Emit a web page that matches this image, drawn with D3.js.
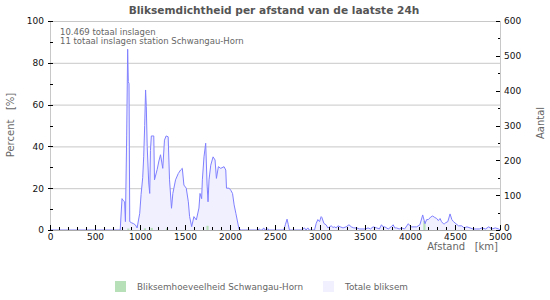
<!DOCTYPE html>
<html><head><meta charset="utf-8">
<script src="https://cdn.jsdelivr.net/npm/d3@7"></script>
<style>
body{margin:0;background:#fff;}
svg text{font-family:"DejaVu Sans",Verdana,sans-serif;}
</style></head>
<body><svg id="c" width="550" height="300"></svg>
<script>
const title = "Bliksemdichtheid per afstand van de laatste 24h";
const notes = ["10.469 totaal inslagen", "11 totaal inslagen station Schwangau-Horn"];
const seriesNames = ["Bliksemhoeveelheid Schwangau-Horn", "Totale bliksem"];
// Totale bliksem: distance (km) and percent
const totalKm = [0,780,800,815,829,838,852,863,870,878,886,904,930,949,968,997,1012,1030,1041,1052,1062,1070,1080,1097,1108,1116,1126,1135,1153,1161,1191,1210,1228,1253,1272,1290,1313,1328,1350,1365,1395,1425,1451,1470,1488,1514,1537,1551,1574,1599,1626,1655,1667,1685,1693,1711,1730,1745,1756,1767,1786,1812,1834,1849,1871,1897,1934,1953,1961,1990,2009,2028,2046,2065,2091,2102,2128,2310,2325,2340,2360,2374,2390,2420,2440,2597,2615,2634,2648,2660,2800,2827,2845,2865,2880,2939,2958,2976,2995,3013,3021,3043,3069,3088,3105,3125,3145,3162,3180,3199,3225,3256,3290,3322,3348,3375,3404,3440,3479,3505,3534,3560,3590,3630,3660,3683,3700,3720,3758,3790,3813,3830,3850,3880,3906,3940,3981,4000,4018,4045,4074,4110,4141,4167,4185,4204,4230,4252,4275,4297,4315,4334,4350,4371,4385,4397,4420,4445,4465,4483,4510,4539,4576,4600,4632,4668,4700,4743,4770,4799,4840,4874,4911,4948,4985,5000];
const totalPct = [0,0,15,14,13.5,4,45,86.5,71,70,4,3.5,3,2.4,1,8,17,25,35,50,67,59,40,22.5,17.5,38,45,45,45,24,29,33,36,29.5,43,45,44.6,24,10.4,17.5,24,27,28.7,29.5,21.5,20,13.5,6.4,1.6,6.4,4.8,10.5,17.5,15,24,35,41.5,22,13.5,24,31,35,33.5,24.7,30.3,29.5,30.3,28.7,20,20,19,17.5,12,8,2.4,0.3,0,0,0.5,0,0,1,0,0.5,0,0,2.5,5.2,2.5,0,0,1,0,1,0,0,3.2,5,4,6.4,6,3.2,2.4,1,1.5,2,1.2,1.5,1,2,1.5,1,1.5,2.5,1.5,1,1,0.5,0.5,0.5,1,0.5,1.5,1,0.5,2.5,1.5,1.5,0.5,1.5,2.5,1,1,0.5,1,0.5,3,2,1.5,1.5,1.5,2.5,7.2,3,5,5,6.2,6.7,6,5.5,4.5,5.5,4,3,3,3.5,4,7.7,5,4,3,2,2,1,1.5,1,0.5,0.5,0.5,1,0.5,1.5,0.5,1,0.5,0];
// Bliksemhoeveelheid Schwangau-Horn: distance (km) and percent
const stationKm = [870,1055,1130,1300,1750,4160];
const stationPct = [0.7,0.8,1,0.8,2,4.3];
const leftTicks = [0,20,40,60,80,100];
const rightTicks = [0,100,200,300,400,500,600];
const xTicks = [0,500,1000,1500,2000,2500,3000,3500,4000,4500,5000];

const svg = d3.select("#c");
const L=50,R=500,T=21,B=230;
const x = d3.scaleLinear().domain([0,5000]).range([L,R]);
const y = d3.scaleLinear().domain([0,100]).range([B,T]);
const y2 = d3.scaleLinear().domain([0,600]).range([B,T]);

// gridlines
svg.append("g").selectAll("line").data(leftTicks.slice(1)).join("line")
  .attr("x1",L).attr("x2",R).attr("y1",d=>y(d)+0.5).attr("y2",d=>y(d)+0.5)
  .attr("stroke","#c8c8c8").attr("stroke-width",1);
svg.append("line").attr("x1",L+0.5).attr("x2",L+0.5).attr("y1",T).attr("y2",B).attr("stroke","#c8c8c8");
svg.append("line").attr("x1",R+0.5).attr("x2",R+0.5).attr("y1",T).attr("y2",B).attr("stroke","#c8c8c8");

// total area
const pts = totalKm.map((k,i)=>[k,totalPct[i]]);
svg.append("path").datum(pts)
  .attr("d", d3.area().x(d=>x(d[0])).y0(B).y1(d=>y(d[1])))
  .attr("fill","#f0f0ff");
// station bars
svg.append("g").selectAll("rect").data(stationKm.map((k,i)=>[k,stationPct[i]])).join("rect")
  .attr("x",d=>x(d[0]-12)).attr("width",d=>x(d[0]+12)-x(d[0]-12))
  .attr("y",d=>y(d[1])).attr("height",d=>B-y(d[1])).attr("fill","#b8e0b8");
svg.append("path").datum(pts)
  .attr("d", d3.line().x(d=>x(d[0])).y(d=>y(d[1])))
  .attr("fill","none").attr("stroke","#8080ff").attr("stroke-width",1);

// bottom axis line
svg.append("line").attr("x1",L).attr("x2",R+1).attr("y1",B+0.5).attr("y2",B+0.5).attr("stroke","#aaa");

// axes
const gx = svg.append("g").attr("transform",`translate(0,${B})`)
  .call(d3.axisBottom(x).tickValues(xTicks).tickSize(0).tickPadding(4).tickFormat(d3.format("d")));
gx.select(".domain").remove();
gx.selectAll("text").attr("font-size",9).attr("fill","#111").attr("font-family","DejaVu Sans");
const minorX = d3.range(0,5001,100);
svg.append("g").selectAll("line").data(minorX).join("line")
  .attr("x1",d=>Math.round(x(d))+0.5).attr("x2",d=>Math.round(x(d))+0.5)
  .attr("y1",d=>d%500===0?B-5:B-3).attr("y2",B)
  .attr("stroke","#000");

const gl = svg.append("g").attr("transform",`translate(${L},0)`)
  .call(d3.axisLeft(y).tickValues(leftTicks).tickSize(0).tickPadding(6));
gl.select(".domain").remove();
gl.selectAll("text").attr("font-size",9).attr("fill","#111").attr("font-family","DejaVu Sans");
svg.append("g").selectAll("line").data(d3.range(0,101,10)).join("line")
  .attr("x1",d=>d%20===0?L-2:L).attr("x2",L+3)
  .attr("y1",d=>Math.round(y(d))+0.5).attr("y2",d=>Math.round(y(d))+0.5).attr("stroke","#000");

const gr = svg.append("g").attr("transform",`translate(${R},0)`)
  .call(d3.axisRight(y2).tickValues(rightTicks).tickSize(0).tickPadding(4));
gr.select(".domain").remove();
gr.selectAll("text").attr("font-size",9).attr("fill","#111").attr("font-family","DejaVu Sans")
  .attr("dy",d=>d===0?"0.1em":"0.32em");
svg.append("g").selectAll("line").data(d3.range(0,601,50)).join("line")
  .attr("x1",d=>d%100===0?R-4:R-2).attr("x2",R)
  .attr("y1",d=>Math.round(y2(d))+0.5).attr("y2",d=>Math.round(y2(d))+0.5).attr("stroke","#000");

// titles
svg.append("text").attr("x",274).attr("y",14).attr("text-anchor","middle")
  .attr("font-size",10.6).attr("font-weight","bold").attr("fill","#555").text(title);
svg.append("text").attr("transform","translate(14,125) rotate(-90)").attr("text-anchor","middle")
  .attr("font-size",10).attr("fill","#666").attr("xml:space","preserve").text("Percent   [%]");
svg.append("text").attr("transform","translate(544,123) rotate(-90)").attr("text-anchor","middle")
  .attr("font-size",10).attr("fill","#666").text("Aantal");
svg.append("text").attr("x",498).attr("y",250).attr("text-anchor","end")
  .attr("font-size",10).attr("fill","#666").attr("xml:space","preserve").text("Afstand   [km]");
notes.forEach((t,i)=>svg.append("text").attr("x",60).attr("y",35+i*9)
  .attr("font-size",8.5).attr("fill","#666").text(t));

// legend
const legX=[115,323], legColors=["#b8e0b8","#f0f0ff"];
seriesNames.forEach((n,i)=>{
  svg.append("rect").attr("x",legX[i]).attr("y",281).attr("width",11).attr("height",11).attr("fill",legColors[i]);
  svg.append("text").attr("x",legX[i]+22).attr("y",290).attr("font-size",8.8).attr("fill","#666").text(n);
});
</script></body></html>
